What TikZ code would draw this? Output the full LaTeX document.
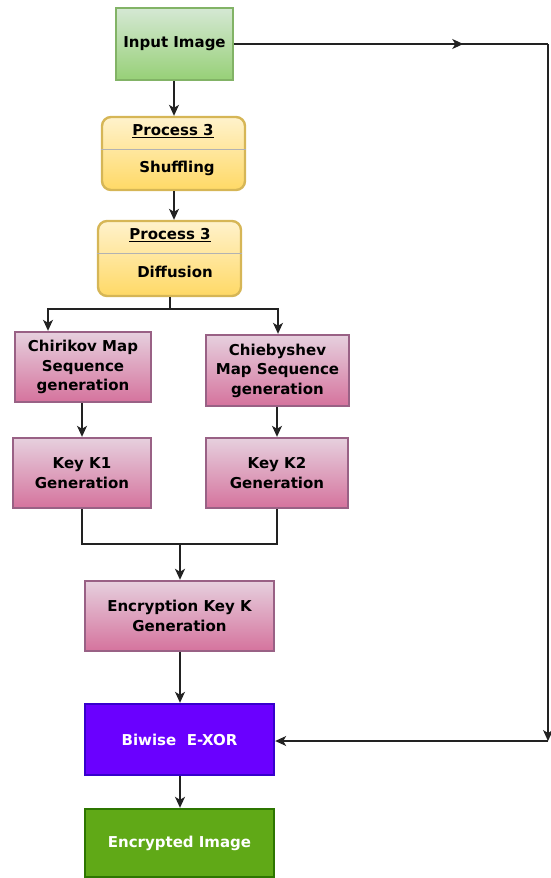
\documentclass[tikz,border=0pt]{standalone}
\usepackage{fontspec}
\setmainfont{DejaVu Sans}
\usetikzlibrary{arrows.meta,decorations.markings}
\definecolor{gTop}{HTML}{D5E8D4}\definecolor{gBot}{HTML}{97D077}\definecolor{gLine}{HTML}{82B366}
\definecolor{yTop}{HTML}{FFF2CC}\definecolor{yBot}{HTML}{FFD966}\definecolor{yLine}{HTML}{D6B656}
\definecolor{pTop}{HTML}{E6D0DE}\definecolor{pBot}{HTML}{D5739D}\definecolor{pLine}{HTML}{996185}
\definecolor{vFill}{HTML}{6A00FF}\definecolor{vLine}{HTML}{3700CC}
\definecolor{dgFill}{HTML}{60A917}\definecolor{dgLine}{HTML}{2D7600}
\definecolor{conn}{HTML}{222222}
\begin{document}
\begin{tikzpicture}[x=1pt,y=-1pt,
  every node/.style={font=\fontsize{15}{19.5}\selectfont\bfseries, align=center, inner sep=0pt},
  boxbase/.style={draw, line width=2.4pt, minimum width=#1},
  greenbox/.style={boxbase=#1, draw=gLine, top color=gTop, bottom color=gBot},
  yellowbox/.style={boxbase=#1, draw=yLine, top color=yTop, bottom color=yBot, rounded corners=9pt},
  pinkbox/.style={boxbase=#1, draw=pLine, top color=pTop, bottom color=pBot},
  violetbox/.style={boxbase=#1, draw=vLine, fill=vFill, text=white},
  dgreenbox/.style={boxbase=#1, draw=dgLine, fill=dgFill, text=white},
  conline/.style={draw=conn, line width=1.1pt},
  tip/.tip={Stealth[length=11pt,width=10pt,inset=3pt]},
  arr/.style={conline, -tip},
  divider/.style={draw=black!30, line width=1pt}]
\useasboundingbox (0,0) rectangle (551,878);

\node[greenbox=117, minimum height=72] (in) at (174.5,44) {Input Image};

\node[yellowbox=143, minimum height=73] (sh) at (173.5,153.5) {};
\draw[divider] (sh.west |- 0,149) -- (sh.east |- 0,149);
\node (sht) at (173,131) {\underline{Process 3}};
\node (shb) at (177,168) {Shuffling};

\node[yellowbox=143, minimum height=75] (df) at (169.5,258.5) {};
\draw[divider] (df.west |- 0,253) -- (df.east |- 0,253);
\node (dft) at (170,235) {\underline{Process 3}};
\node (dfb) at (175,272) {Diffusion};

\node[pinkbox=136, minimum height=70] (ch) at (83,367) {Chirikov Map\\Sequence\\generation};
\node[pinkbox=143, minimum height=71] (cb) at (277.5,370.5) {Chiebyshev\\Map Sequence\\generation};
\node[pinkbox=138, minimum height=70] (k1) at (82,473) {Key K1\\Generation};
\node[pinkbox=142, minimum height=70] (k2) at (277,473) {Key K2\\Generation};
\node[pinkbox=189, minimum height=70] (ek) at (179.5,616) {Encryption Key K\\Generation};
\node[violetbox=189, minimum height=71] (xo) at (179.5,739.5) {Biwise\ \ E-XOR};
\node[dgreenbox=189, minimum height=68] (en) at (179.5,843) {Encrypted Image};

% main chain
\draw[arr] (in.south -| 174,0) -- (sh.north -| 174,0);
\draw[arr] (sh.south -| 174,0) -- (df.north -| 174,0);
\coordinate (split) at (170,309);
\draw[conline] (df.south -| split) -- (split);
\draw[arr] (split) -| (ch.north -| 48,0);
\draw[arr] (split) -| (cb.north -| 278,0);
\draw[arr] (ch.south -| 82,0) -- (k1.north -| 82,0);
\draw[arr] (cb.south -| 277,0) -- (k2.north);
\coordinate (mergeL) at (82,544);
\coordinate (mergeR) at (277,544);
\coordinate (merge) at (180,544);
\draw[conline] (k1.south) -- (mergeL) -- (mergeR) -- (k2.south);
\draw[conline, line width=1.9pt, -tip] (merge) -- (ek.north -| merge);
\draw[arr] (ek.south -| merge) -- (xo.north -| merge);
\draw[arr, line width=1.6pt] (xo.south -| merge) -- (en.north -| merge);

% bypass
\coordinate (tr) at (548,44);
\coordinate (br) at (548,741);
\draw[conline, postaction={decorate}, decoration={markings, mark=at position 0.73 with {\arrow{tip}}}] (in.east) -- (tr);
\draw[arr] (tr) -- (br);
\draw[arr] (br) -- (xo.east |- br);
\end{tikzpicture}
\end{document}
